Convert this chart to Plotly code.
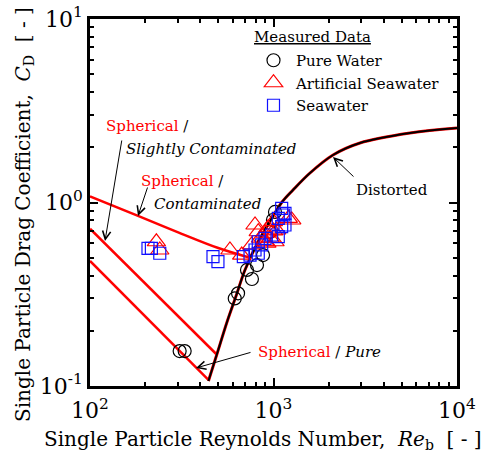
import plotly.graph_objects as go

# ---- Model curves ----
re_pure = [100, 442]
cd_pure = [0.48, 0.108]
re_slight = [100, 492]
cd_slight = [0.72, 0.148]
re_cont = [100, 180, 300, 500, 745]
cd_cont = [1.08, 0.85, 0.69, 0.565, 0.50]
re_dist = [442, 492, 558, 625, 699, 823, 981, 1113, 1277, 1581, 2110, 2960, 5545, 10000]
cd_dist = [0.1065, 0.1494, 0.2233, 0.3094, 0.4286, 0.609, 0.823, 1.006, 1.170, 1.448, 1.815, 2.110, 2.391, 2.547]

# ---- Measured data ----
re_pw = [308, 328, 615, 641, 717, 763, 813, 877, 957, 993, 1019]
cd_pw = [0.155, 0.155, 0.30, 0.32, 0.429, 0.383, 0.456, 0.517, 0.691, 0.803, 0.888]

re_as = [230, 240, 579, 671, 793, 826, 933, 1019, 1204, 1257, 899, 760, 1041, 998,
         850, 900, 960, 1000, 920]
cd_as = [0.611, 0.551, 0.551, 0.517, 0.754, 0.693, 0.726, 0.611, 0.820, 0.803, 0.611, 0.587, 0.708, 0.786,
         0.64, 0.68, 0.64, 0.70, 0.60]

re_sw = [207, 216, 240, 468, 498, 685, 745, 793, 826, 862, 826, 899, 977, 1062, 1108, 1155, 1062, 1131, 1108, 1155]
cd_sw = [0.563, 0.563, 0.529, 0.507, 0.476, 0.507, 0.517, 0.551, 0.529, 0.587, 0.611, 0.638, 0.665, 0.651,
         0.738, 0.754, 0.820, 0.855, 0.930, 0.873]

x_tickvals = [100, 1000, 10000]
x_ticktext = ["10<sup>2</sup>", "10<sup>3</sup>", "10<sup>4</sup>"]
y_tickvals = [0.1, 1, 10]
y_ticktext = ["10<sup>-1</sup>", "10<sup>0</sup>", "10<sup>1</sup>"]

FONT = "DejaVu Serif"
RED = "#ff0000"
BLUE = "#1010ff"

fig = go.Figure()

line_red = dict(color=RED, width=2.5)
fig.add_trace(go.Scatter(x=re_dist, y=cd_dist, mode="lines", line=dict(color=RED, width=3, shape="spline"),
                         showlegend=False, hoverinfo="skip"))
fig.add_trace(go.Scatter(x=re_pure, y=cd_pure, mode="lines", line=line_red, showlegend=False))
fig.add_trace(go.Scatter(x=re_slight, y=cd_slight, mode="lines", line=line_red, showlegend=False))
fig.add_trace(go.Scatter(x=re_cont, y=cd_cont, mode="lines", line=dict(color=RED, width=2.5, shape="spline"),
                         showlegend=False))
fig.add_trace(go.Scatter(x=re_dist, y=cd_dist, mode="lines", line=dict(color="black", width=2, shape="spline"),
                         showlegend=False))

fig.add_trace(go.Scatter(x=re_pw, y=cd_pw, mode="markers", name="Pure Water",
                         marker=dict(symbol="circle-open", size=13, color="black", line=dict(width=1.2))))
fig.add_trace(go.Scatter(x=re_as, y=cd_as, mode="markers", name="Artificial Seawater",
                         marker=dict(symbol="triangle-up-open", size=16, color=RED, line=dict(width=1.2))))
fig.add_trace(go.Scatter(x=re_sw, y=cd_sw, mode="markers", name="Seawater",
                         marker=dict(symbol="square-open", size=12, color=BLUE, line=dict(width=1.2))))

L, R, T, B = 90, 457, 19, 386
W, H = 485, 463


def px(X):
    return (X - L) / (R - L)


def py(Y):
    return (B - Y) / (B - T)


ann = []


def text(X, Y, s, color="black", xanchor="left", italic=False, size=15, angle=0):
    if italic:
        s = "<i>" + s + "</i>"
    ann.append(dict(x=px(X), y=py(Y), xref="paper", yref="paper", text=s, showarrow=False,
                    xanchor=xanchor, yanchor="middle", textangle=angle,
                    font=dict(family=FONT, size=size, color=color)))


def arrow(hx, hy, tx, ty):
    ann.append(dict(x=px(hx), y=py(hy), xref="paper", yref="paper", text="", showarrow=True,
                    ax=tx - hx, ay=ty - hy, arrowhead=5, arrowsize=1.6, arrowwidth=1,
                    arrowcolor="black", standoff=0, startstandoff=0))


text(104, 126, "<span style='color:red'>Spherical</span> /")
text(124, 149, "Slightly Contaminated", italic=True)
text(139, 181, "<span style='color:red'>Spherical</span> /")
text(152, 204, "Contaminated", italic=True)
text(256, 352, "<span style='color:red'>Spherical</span> / <i>Pure</i>")
text(354, 190, "Distorted")
text(252, 37, "<u>Measured Data</u>")

# axis titles
text(263, 440, "Single Particle Reynolds Number,  <i>Re</i><sub>b</sub>  [ - ]", xanchor="center", size=20)
text(24, 215, "Single Particle Drag Coefficient,  <i>C</i><sub>D</sub>  [ - ]", xanchor="center", size=20,
     angle=-90)

arrow(105, 241, 122, 139)
arrow(138, 216, 148, 186)
arrow(196, 368, 252, 352)
arrow(333, 157, 355, 178)

axis_common = dict(type="log", showline=True, linewidth=2.5, linecolor="black", mirror="allticks",
                   ticks="inside", ticklen=8, tickwidth=2, tickcolor="black", showgrid=False,
                   zeroline=False, automargin=False, tickfont=dict(family=FONT, size=22, color="black"))

minor_x = [m * 10 ** k for k in (2, 3) for m in range(2, 10)]
minor_y = [m * 10 ** k for k in (-1, 0) for m in range(2, 10)]

fig.update_layout(
    width=W, height=H,
    margin=dict(l=L, r=W - R, t=T, b=H - B, autoexpand=False),
    paper_bgcolor="white", plot_bgcolor="white",
    font=dict(family=FONT, color="black"),
    xaxis=dict(axis_common, range=[2, 4], tickvals=x_tickvals, ticktext=x_ticktext, ticklabelstandoff=3,
               minor=dict(tickvals=minor_x, ticks="inside", ticklen=4, tickwidth=1.5, tickcolor="black")),
    yaxis=dict(axis_common, range=[-1, 1], tickvals=y_tickvals, ticktext=y_ticktext,
               minor=dict(tickvals=minor_y, ticks="inside", ticklen=4, tickwidth=1.5, tickcolor="black")),
    legend=dict(x=px(251), y=py(44), xanchor="left", yanchor="top", bgcolor="rgba(0,0,0,0)",
                font=dict(family=FONT, size=15, color="black"), itemwidth=35,
                tracegroupgap=0),
    annotations=ann,
)

fig.write_html("out.html")
